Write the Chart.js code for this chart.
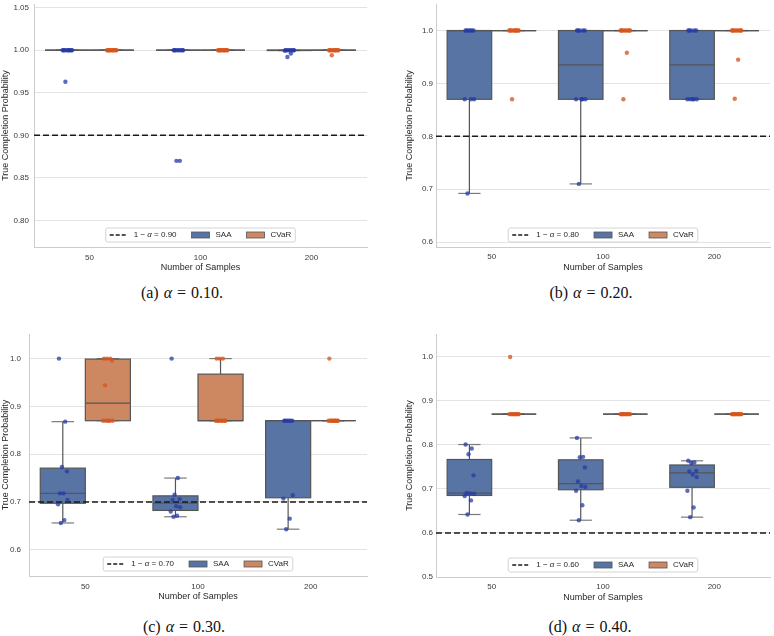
<!DOCTYPE html>
<html><head><meta charset="utf-8">
<script src="https://cdn.jsdelivr.net/npm/chart.js@4.4.1/dist/chart.umd.min.js"></script>
<style>
html,body{margin:0;padding:0;background:#fff;width:774px;height:636px;overflow:hidden;position:relative}
canvas{position:absolute}
.cap{position:absolute;font-family:"Liberation Serif","DejaVu Serif",serif;font-size:16px;color:#111;transform:translate(-50%,-50%);white-space:nowrap;word-spacing:1px}
</style></head><body>
<canvas id="ca"></canvas>
<canvas id="cb"></canvas>
<canvas id="cc"></canvas>
<canvas id="cd"></canvas>
<div class="cap" id="capa" style="left:182px;top:293px"></div>
<div class="cap" id="capb" style="left:591px;top:293px"></div>
<div class="cap" id="capc" style="left:184px;top:627px"></div>
<div class="cap" id="capd" style="left:590px;top:627px"></div>
<script>
// ---------------- data ----------------
const categories = ['50', '100', '200'];
const seriesNames = ['SAA', 'CVaR'];
const panelLetters = ['a', 'b', 'c', 'd'];
const alphaLabels = ['0.10', '0.20', '0.30', '0.40'];
const thresholds = [0.90, 0.80, 0.70, 0.60];

// (a) alpha = 0.10
const saaA = [
  [1, 1, 1, 1, 1, 1, 1, 1, 1, 0.963],
  [1, 1, 1, 1, 1, 1, 1, 1, 0.87, 0.87],
  [1, 1, 1, 1, 1, 1, 1, 0.9995, 0.996, 0.992]
];
const cvarA = [
  [1, 1, 1, 1, 1, 1, 1, 1, 1, 1],
  [1, 1, 1, 1, 1, 1, 1, 1, 1, 1],
  [1, 1, 1, 1, 1, 1, 1, 1, 1, 0.994]
];
// (b) alpha = 0.20
const saaB = [
  [1, 1, 1, 1, 1, 1, 0.87, 0.87, 0.87, 0.692],
  [1, 1, 1, 1, 1, 0.87, 0.87, 0.87, 0.87, 0.71],
  [1, 1, 1, 1, 1, 0.87, 0.87, 0.87, 0.87, 0.87]
];
const cvarB = [
  [1, 1, 1, 1, 1, 1, 1, 1, 1, 0.87],
  [1, 1, 1, 1, 1, 1, 1, 1, 0.958, 0.87],
  [1, 1, 1, 1, 1, 1, 1, 1, 0.945, 0.871]
];
// (c) alpha = 0.30
const saaC = [
  [1.0, 0.868, 0.773, 0.764, 0.718, 0.718, 0.704, 0.695, 0.662, 0.656],
  [1.0, 0.750, 0.715, 0.706, 0.704, 0.691, 0.689, 0.680, 0.671, 0.669],
  [0.87, 0.87, 0.87, 0.87, 0.87, 0.87, 0.714, 0.707, 0.665, 0.643]
];
const cvarC = [
  [1, 1, 1, 0.996, 0.944, 0.87, 0.87, 0.87, 0.87, 0.87],
  [1, 1, 1, 0.87, 0.87, 0.87, 0.87, 0.87, 0.87, 0.87],
  [1, 0.87, 0.87, 0.87, 0.87, 0.87, 0.87, 0.87, 0.87, 0.87]
];
// (d) alpha = 0.40
const saaD = [
  [0.801, 0.792, 0.779, 0.731, 0.691, 0.690, 0.689, 0.684, 0.674, 0.642],
  [0.816, 0.773, 0.772, 0.749, 0.717, 0.707, 0.705, 0.696, 0.663, 0.629],
  [0.764, 0.760, 0.759, 0.741, 0.740, 0.733, 0.727, 0.696, 0.658, 0.636]
];
const cvarD = [
  [1, 0.87, 0.87, 0.87, 0.87, 0.87, 0.87, 0.87, 0.87, 0.87],
  [0.87, 0.87, 0.87, 0.87, 0.87, 0.87, 0.87, 0.87, 0.87, 0.87],
  [0.87, 0.87, 0.87, 0.87, 0.87, 0.87, 0.87, 0.87, 0.87, 0.87]
];

const yTicksA = [0.80, 0.85, 0.90, 0.95, 1.00, 1.05];
const yTicksB = [0.6, 0.7, 0.8, 0.9, 1.0];
const yTicksC = [0.6, 0.7, 0.8, 0.9, 1.0];
const yTicksD = [0.5, 0.6, 0.7, 0.8, 0.9, 1.0];

// ---------------- styling ----------------
const SAA_FILL = '#5874a5';
const CVAR_FILL = '#cd8862';
const SAA_PT = 'rgba(38,58,165,0.75)';
const CVAR_PT = 'rgba(214,86,30,0.78)';
const LINE_COL = '#555555';
const DODGE = 0.2, HALF = 0.2;
const JITTER = [-0.034, 0.021, -0.008, 0.037, -0.025, 0.006, 0.042, -0.042, 0.014, -0.017];
const SANS = '"Liberation Sans", Arial, Helvetica, sans-serif';
Chart.defaults.font.family = SANS;

const panels = [
  {id: 'ca', saa: saaA, cvar: cvarA, ticks: yTicksA, dec: 2, ymin: 0.7688, ymax: 1.0543,
   left: 0, top: 0, w: 385, h: 273, yw: 34, xh: 26, padR: 18, tpy: 5, tpx: 6},
  {id: 'cb', saa: saaB, cvar: cvarB, ticks: yTicksB, dec: 1, ymin: 0.5907, ymax: 1.0502,
   left: 404, top: 0, w: 370, h: 273, yw: 32, xh: 26, padR: 1, tpy: 3, tpx: 5},
  {id: 'cc', saa: saaC, cvar: cvarC, ticks: yTicksC, dec: 1, ymin: 0.5450, ymax: 1.0515,
   left: 0, top: 330, w: 385, h: 272, yw: 29, xh: 26, padR: 18, tpy: 8, tpx: 6},
  {id: 'cd', saa: saaD, cvar: cvarD, ticks: yTicksD, dec: 1, ymin: 0.5, ymax: 1.0521,
   left: 404, top: 330, w: 370, h: 273, yw: 32, xh: 26, padR: 1, tpy: 3, tpx: 5}
];

function quantile(s, p) {
  const pos = (s.length - 1) * p, lo = Math.floor(pos), hi = Math.ceil(pos);
  return s[lo] + (s[hi] - s[lo]) * (pos - lo);
}
function boxStats(vals) {
  const s = [...vals].sort((a, b) => a - b);
  const q1 = quantile(s, 0.25), med = quantile(s, 0.5), q3 = quantile(s, 0.75);
  const iqr = q3 - q1;
  const lo = s.find(v => v >= q1 - 1.5 * iqr);
  const hi = [...s].reverse().find(v => v <= q3 + 1.5 * iqr);
  return {q1, med, q3, lo, hi};
}

const boxPlugin = {
  id: 'boxes',
  beforeDatasetsDraw(chart, args, opts) {
    const {ctx, chartArea: ca, scales: {x, y}} = chart;
    ctx.save();
    ctx.beginPath(); ctx.rect(ca.left, ca.top, ca.right - ca.left, ca.bottom - ca.top); ctx.clip();
    const seg = (x0, y0, x1, y1) => { ctx.beginPath(); ctx.moveTo(x0, y0); ctx.lineTo(x1, y1); ctx.stroke(); };
    opts.groups.forEach(g => {
      g.data.forEach((vals, i) => {
        const st = boxStats(vals);
        const xc = x.getPixelForValue(i + g.offset);
        const x0 = x.getPixelForValue(i + g.offset - HALF);
        const x1 = x.getPixelForValue(i + g.offset + HALF);
        const cw = (x1 - x0) / 4;
        const yq1 = y.getPixelForValue(st.q1), yq3 = y.getPixelForValue(st.q3);
        const ym = y.getPixelForValue(st.med);
        const ylo = y.getPixelForValue(st.lo), yhi = y.getPixelForValue(st.hi);
        ctx.strokeStyle = LINE_COL; ctx.lineWidth = 1.2;
        seg(xc, yq1, xc, ylo); seg(xc, yq3, xc, yhi);
        ctx.strokeStyle = '#7a7a7a';
        seg(xc - cw, ylo, xc + cw, ylo); seg(xc - cw, yhi, xc + cw, yhi);
        ctx.strokeStyle = LINE_COL;
        ctx.fillStyle = g.color;
        ctx.fillRect(x0, yq3, x1 - x0, yq1 - yq3);
        ctx.strokeRect(x0, yq3, x1 - x0, yq1 - yq3);
        seg(x0, ym, x1, ym);
      });
    });
    ctx.restore();
  },
  afterDraw(chart, args, opts) {
    const {ctx, chartArea: ca} = chart;
    ctx.save();
    const fs = 8;
    const normal = fs + 'px ' + SANS, italic = 'italic ' + fs + 'px ' + SANS;
    ctx.font = normal;
    const t1a = '1 \u2212 ', t1c = ' = ' + opts.thrLabel;
    ctx.font = italic; const wAlpha = ctx.measureText('\u03b1').width;
    ctx.font = normal;
    const w1 = ctx.measureText(t1a).width + wAlpha + ctx.measureText(t1c).width;
    const w2 = ctx.measureText(seriesNames[0]).width, w3 = ctx.measureText(seriesNames[1]).width;
    const padX = 4, hl = 18, gapT = 6, gapI = 15, H = 14;
    const W = padX * 2 + (hl + gapT) * 3 + w1 + w2 + w3 + gapI * 2;
    const lx = (ca.left + ca.right) / 2 - W / 2;
    const ly = ca.bottom - 5 - H;
    // frame
    const r = 2;
    ctx.beginPath();
    ctx.moveTo(lx + r, ly); ctx.lineTo(lx + W - r, ly); ctx.quadraticCurveTo(lx + W, ly, lx + W, ly + r);
    ctx.lineTo(lx + W, ly + H - r); ctx.quadraticCurveTo(lx + W, ly + H, lx + W - r, ly + H);
    ctx.lineTo(lx + r, ly + H); ctx.quadraticCurveTo(lx, ly + H, lx, ly + H - r);
    ctx.lineTo(lx, ly + r); ctx.quadraticCurveTo(lx, ly, lx + r, ly); ctx.closePath();
    ctx.fillStyle = 'rgba(255,255,255,0.85)'; ctx.fill();
    ctx.strokeStyle = '#d4d4d4'; ctx.lineWidth = 1; ctx.stroke();
    const cy = ly + H / 2;
    let cx = lx + padX;
    // item 1: dashed line
    ctx.strokeStyle = '#1a1a1a'; ctx.lineWidth = 1.5; ctx.setLineDash([4, 2]);
    ctx.beginPath(); ctx.moveTo(cx, cy); ctx.lineTo(cx + hl, cy); ctx.stroke();
    ctx.setLineDash([]);
    cx += hl + gapT;
    ctx.fillStyle = '#262626'; ctx.textBaseline = 'middle'; ctx.textAlign = 'left';
    ctx.font = normal; ctx.fillText(t1a, cx, cy); cx += ctx.measureText(t1a).width;
    ctx.font = italic; ctx.fillText('\u03b1', cx, cy); cx += wAlpha;
    ctx.font = normal; ctx.fillText(t1c, cx, cy); cx += ctx.measureText(t1c).width;
    cx += gapI;
    [[SAA_FILL, seriesNames[0], w2], [CVAR_FILL, seriesNames[1], w3]].forEach(([col, txt, w], k) => {
      ctx.fillStyle = col; ctx.fillRect(cx, cy - 3, hl, 6);
      ctx.strokeStyle = LINE_COL; ctx.lineWidth = 0.8; ctx.strokeRect(cx, cy - 3, hl, 6);
      cx += hl + gapT;
      ctx.fillStyle = '#262626'; ctx.fillText(txt, cx, cy);
      cx += w + gapI;
    });
    ctx.restore();
  }
};

panels.forEach((p, pi) => {
  const cv = document.getElementById(p.id);
  cv.width = p.w; cv.height = p.h;
  cv.style.left = p.left + 'px'; cv.style.top = p.top + 'px';
  cv.style.width = p.w + 'px'; cv.style.height = p.h + 'px';
  const thr = thresholds[pi];
  const pts = (arr, off) => arr.flatMap((vals, i) => vals.map((v, k) => ({x: i + off + JITTER[k], y: v})));
  new Chart(cv, {
    data: {
      datasets: [
        {type: 'scatter', label: seriesNames[0], data: pts(p.saa, -DODGE), backgroundColor: SAA_PT,
         pointRadius: 2.2, pointBorderWidth: 0, order: 0},
        {type: 'scatter', label: seriesNames[1], data: pts(p.cvar, DODGE), backgroundColor: CVAR_PT,
         pointRadius: 2.2, pointBorderWidth: 0, order: 1},
        {type: 'line', label: 'thr', data: [{x: -0.5, y: thr}, {x: 2.5, y: thr}],
         borderColor: '#1a1a1a', borderWidth: 1.5, borderDash: [6, 3], pointRadius: 0, order: 2, fill: false}
      ]
    },
    options: {
      responsive: false, animation: false, events: [],
      layout: {padding: {left: 0, right: p.padR, top: 0, bottom: 0}},
      plugins: {
        legend: {display: false}, tooltip: {enabled: false},
        boxes: {thrLabel: thr.toFixed(2), groups: [
          {data: p.saa, offset: -DODGE, color: SAA_FILL},
          {data: p.cvar, offset: DODGE, color: CVAR_FILL}
        ]}
      },
      scales: {
        x: {
          type: 'linear', min: -0.5, max: 2.5,
          afterBuildTicks: ax => { ax.ticks = categories.map((c, i) => ({value: i})); },
          afterFit: ax => { ax.height = p.xh; ax.paddingLeft = 0; ax.paddingRight = 0; ax.paddingTop = 0; ax.paddingBottom = 0; },
          ticks: {callback: v => categories[Math.round(v)], padding: p.tpx, color: '#3a3a3a',
                  font: {size: 8}, maxRotation: 0, autoSkip: false},
          grid: {display: false, drawTicks: false},
          border: {display: true, color: '#cccccc', width: 1},
          title: {display: true, text: 'Number of Samples', color: '#262626', font: {size: 9}, padding: 0}
        },
        y: {
          type: 'linear', min: p.ymin, max: p.ymax,
          afterBuildTicks: ax => { ax.ticks = p.ticks.map(v => ({value: v})); },
          afterFit: ax => { ax.width = p.yw; ax.paddingTop = 0; ax.paddingBottom = 0; ax.paddingLeft = 0; ax.paddingRight = 0; },
          ticks: {callback: v => Number(v).toFixed(p.dec), padding: p.tpy, color: '#3a3a3a', font: {size: 8}},
          grid: {color: '#e3e3e3', lineWidth: 1, drawTicks: false},
          border: {display: true, color: '#cccccc', width: 1},
          title: {display: true, text: 'True Completion Probability', color: '#262626', font: {size: 9}, padding: 0}
        }
      }
    },
    plugins: [boxPlugin]
  });
  document.getElementById('cap' + panelLetters[pi]).innerHTML =
    '(' + panelLetters[pi] + ') <i>\u03b1</i> = ' + alphaLabels[pi] + '.';
});
</script>
</body></html>
